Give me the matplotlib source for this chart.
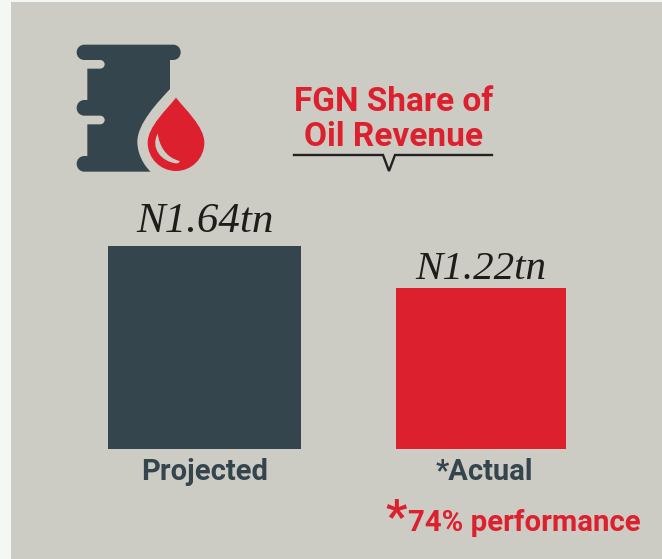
import matplotlib
matplotlib.use('Agg')
import matplotlib.pyplot as plt
from matplotlib.path import Path
from matplotlib.patches import PathPatch, Rectangle
import numpy as np

categories = ['Projected', '*Actual']
values = [1.64, 1.22]
value_labels = ['N1.64tn', 'N1.22tn']
title_lines = ['FGN Share of', 'Oil Revenue']
note = '74% performance'

DARK = '#35454e'
RED = '#dc202d'
PANEL = '#cccbc4'
W, H = 662, 559

fig = plt.figure(figsize=(W / 100, H / 100), dpi=100, facecolor='#f3f8f5')

# pixel layer for background, icon and title
bg = fig.add_axes([0, 0, 1, 1])
bg.set_xlim(0, W)
bg.set_ylim(H, 0)
bg.axis('off')
bg.add_patch(Rectangle((11, 2), W - 11, H - 2, color=PANEL, lw=0))


def z(x, y):
    # coordinates measured on the 3x zoom of the icon
    return (x / 3 + 50, y / 3 + 20)


def shape(points, color):
    verts, codes = [], []
    for code, pts in points:
        for p in pts:
            verts.append(z(*p))
            codes.append(code)
    bg.add_patch(PathPatch(Path(verts, codes), facecolor=color, edgecolor='none', lw=0))


M, L, C = Path.MOVETO, Path.LINETO, Path.CURVE4
# barrel
shape([
    (M, [(103, 74)]), (L, [(369, 74)]),
    (C, [(384, 74), (392, 85), (392, 97)]),
    (C, [(392, 109), (384, 120), (369, 120)]),
    (L, [(360, 120), (360, 207)]),
    (C, [(325, 245), (262, 310), (262, 365)]),
    (C, [(262, 400), (280, 435), (302, 455)]),
    (L, [(103, 455)]),
    (C, [(90, 455), (80, 445), (80, 431)]),
    (C, [(80, 418), (90, 408), (103, 408)]),
    (L, [(112, 408), (112, 313), (150, 313)]),
    (C, [(158, 313), (164, 307), (164, 300)]),
    (C, [(164, 293), (158, 287), (150, 287)]),
    (L, [(103, 287)]),
    (C, [(90, 287), (80, 277), (80, 264)]),
    (C, [(80, 250), (90, 240), (103, 240)]),
    (L, [(112, 240), (112, 146), (150, 146)]),
    (C, [(158, 146), (164, 140), (164, 133)]),
    (C, [(164, 126), (158, 120), (150, 120)]),
    (L, [(103, 120)]),
    (C, [(90, 120), (80, 110), (80, 97)]),
    (C, [(80, 84), (90, 74), (103, 74)]),
], DARK)
# drop
shape([
    (M, [(378, 233)]),
    (C, [(405, 268), (463, 320), (463, 368)]),
    (C, [(463, 415), (425, 453), (378, 453)]),
    (C, [(331, 453), (293, 415), (293, 368)]),
    (C, [(293, 320), (351, 268), (378, 233)]),
], RED)
# highlight in the drop
shape([
    (M, [(323, 341)]),
    (C, [(328, 375), (345, 412), (389, 423)]),
    (C, [(388, 428), (385, 430), (378, 430)]),
    (C, [(335, 425), (300, 385), (323, 341)]),
], PANEL)

for line, y in zip(title_lines, [102, 137]):
    bg.text(394, y, line, color=RED, fontsize=24, fontweight='bold', family='Roboto',
            ha='center', va='center')
bg.plot([294, 383, 389, 395, 492], [155, 155, 171, 155, 155], color='#222222', lw=1.7,
        solid_joinstyle='miter')

bg.text(385, 519, '*', color=RED, fontsize=34, fontweight='bold', family='Roboto', va='center')
bg.text(408, 523, note, color=RED, fontsize=21.2, fontweight='bold', family='Roboto', va='center')

# bar layer: 100 px per unit, baseline of the bars sits at -0.39
ax = fig.add_axes([0, 0, 1, 1])
ax.patch.set_alpha(0)
ax.set_xlim(0, W)
ax.set_ylim(-1.49, 4.10)
ax.axis('off')
base = -0.39
xpos = [204.5, 481]
widths = [193, 170]
colors = [DARK, RED]
ax.bar(xpos, np.array(values) - base, bottom=base, width=widths, color=colors, lw=0)

for x, v, lab, cat, fs, dy in zip(xpos, values, value_labels, categories, [31, 29.5], [0.05, 0.0]):
    ax.text(x + (1 if x < 300 else 0), v + dy, lab, fontsize=fs, family='Liberation Serif',
            style='italic', color='#1d1d1b', ha='center', va='bottom')
    ax.text(x + (0 if x < 300 else 3), base - 0.235, cat, fontsize=21, fontweight='bold',
            family='Roboto', color=DARK, ha='center', va='center')

fig.savefig('out.png', dpi=100, facecolor=fig.get_facecolor())
